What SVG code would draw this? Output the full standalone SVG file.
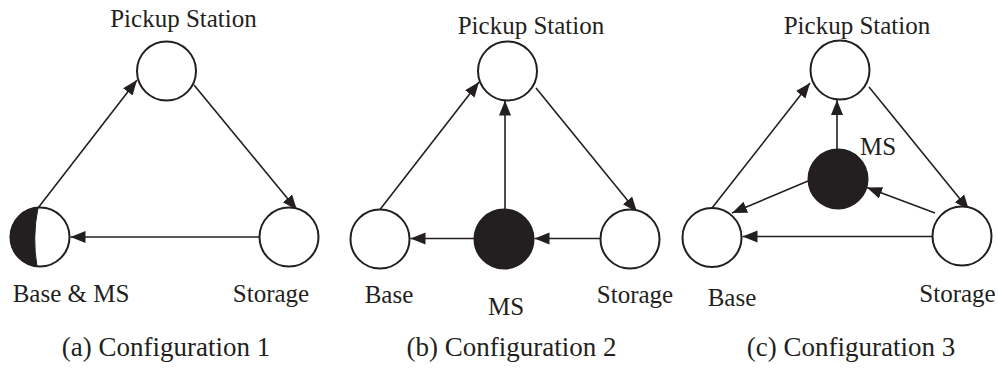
<svg xmlns="http://www.w3.org/2000/svg" width="998" height="368" viewBox="0 0 998 368">
<style>
  .node { fill: #ffffff; stroke: #231f20; stroke-width: 2; }
  .ms { fill: #231f20; stroke: #231f20; stroke-width: 2; }
  .edge { stroke: #231f20; stroke-width: 1.6; fill: none; marker-end: url(#arrow); }
  text { font-family: "Liberation Serif", "Times New Roman", serif; fill: #231f20; }
  .lbl { font-size: 25px; }
  .cap { font-size: 27px; text-anchor: middle; }
  .mid { text-anchor: middle; }
</style>
<defs>
  <marker id="arrow" markerUnits="userSpaceOnUse" markerWidth="16" markerHeight="14" refX="15" refY="6" orient="auto">
    <path d="M0,0 L15,6 L0,12 Z" fill="#231f20"/>
  </marker>
</defs>
<rect width="998" height="368" fill="#ffffff"/>

<g id="connectors">
  <!-- (a) -->
  <line class="edge" x1="38" y1="208" x2="137" y2="80"/>
  <line class="edge" x1="194" y1="85" x2="297" y2="210"/>
  <line class="edge" x1="259" y1="237" x2="70.5" y2="237"/>
  <!-- (b) -->
  <line class="edge" x1="380" y1="209.5" x2="479" y2="82"/>
  <line class="edge" x1="505" y1="209.5" x2="505" y2="100.5"/>
  <line class="edge" x1="536" y1="88" x2="637" y2="212"/>
  <line class="edge" x1="600" y1="238.5" x2="534.5" y2="238.5"/>
  <line class="edge" x1="474" y1="238.5" x2="410.5" y2="238.5"/>
  <!-- (c) -->
  <line class="edge" x1="712" y1="208" x2="810" y2="83"/>
  <line class="edge" x1="869" y1="87" x2="969" y2="210"/>
  <line class="edge" x1="837" y1="149" x2="837" y2="100"/>
  <line class="edge" x1="808" y1="181" x2="732" y2="213"/>
  <line class="edge" x1="935" y1="213" x2="867" y2="187.5"/>
  <line class="edge" x1="932" y1="236.5" x2="742.5" y2="236.5"/>
</g>

<!-- Panel (a) -->
<g id="a-pickup">
  <circle class="node" cx="166.5" cy="71" r="29.5"/>
  <text class="lbl mid" x="183.5" y="27">Pickup Station</text>
</g>
<g id="a-base-ms">
  <circle class="node" cx="40" cy="237" r="29.5"/>
  <path d="M38,207.6 A29.5,29.5 0 0 0 37,266.4 Q32,237 38,207.6 Z" fill="#231f20" stroke="#231f20" stroke-width="1"/>
  <text class="lbl mid" x="71" y="302">Base &amp; MS</text>
</g>
<g id="a-storage">
  <circle class="node" cx="289" cy="237" r="29.5"/>
  <text class="lbl mid" x="271" y="302">Storage</text>
</g>

<!-- Panel (b) -->
<g id="b-pickup">
  <circle class="node" cx="507.5" cy="71" r="29.5"/>
  <text class="lbl mid" x="531" y="34">Pickup Station</text>
</g>
<g id="b-base">
  <circle class="node" cx="380" cy="239" r="29.5"/>
  <text class="lbl mid" x="389" y="303">Base</text>
</g>
<g id="b-ms">
  <circle class="ms" cx="504" cy="239" r="29.5"/>
  <text class="lbl mid" x="506" y="315">MS</text>
</g>
<g id="b-storage">
  <circle class="node" cx="630" cy="239" r="29.5"/>
  <text class="lbl mid" x="635" y="303">Storage</text>
</g>

<!-- Panel (c) -->
<g id="c-pickup">
  <circle class="node" cx="840" cy="70" r="29.5"/>
  <text class="lbl mid" x="857" y="34">Pickup Station</text>
</g>
<g id="c-ms">
  <circle class="ms" cx="838" cy="179" r="29.5"/>
  <text class="lbl" x="860" y="155">MS</text>
</g>
<g id="c-base">
  <circle class="node" cx="712" cy="237.5" r="29.5"/>
  <text class="lbl mid" x="732" y="306">Base</text>
</g>
<g id="c-storage">
  <circle class="node" cx="962" cy="236" r="29.5"/>
  <text class="lbl mid" x="957.5" y="302">Storage</text>
</g>

<g id="captions">
  <text class="cap" x="166" y="356">(a) Configuration 1</text>
  <text class="cap" x="511.5" y="356">(b) Configuration 2</text>
  <text class="cap" x="851" y="356">(c) Configuration 3</text>
</g>
</svg>
